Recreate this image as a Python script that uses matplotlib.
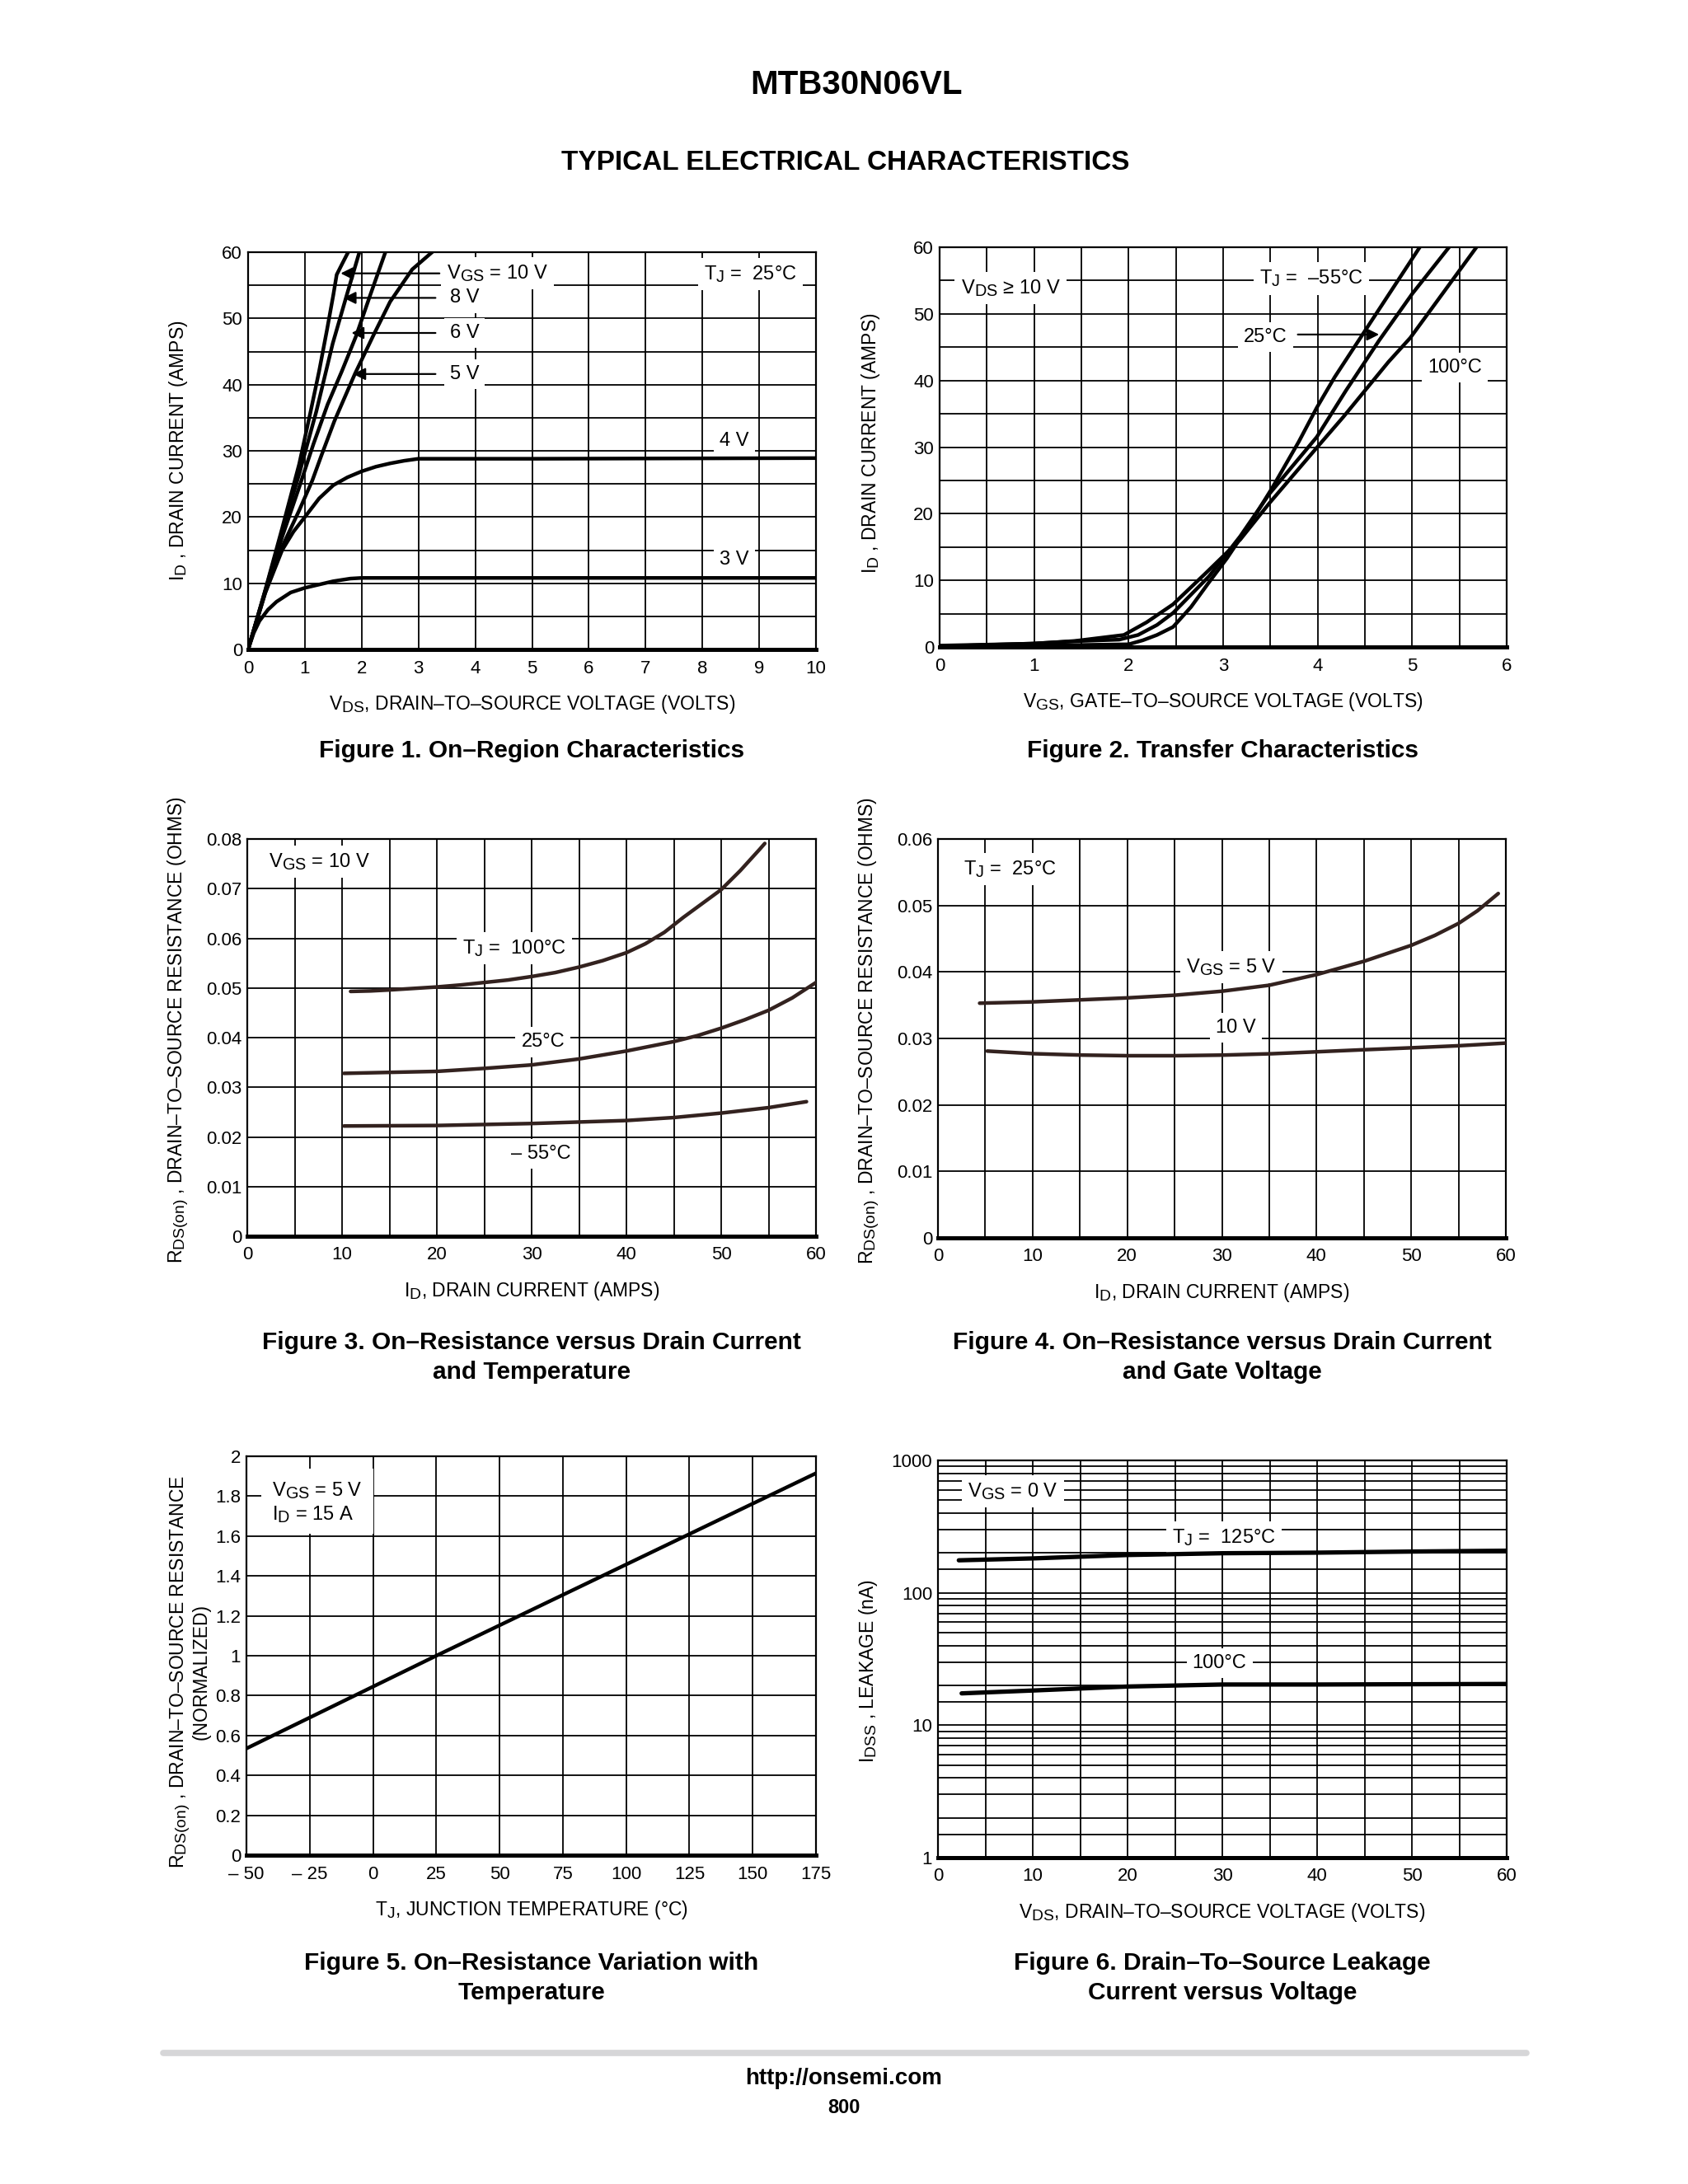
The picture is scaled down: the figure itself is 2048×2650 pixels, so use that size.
import numpy as np
import matplotlib
matplotlib.use("Agg")
import matplotlib.pyplot as plt
from matplotlib.patches import Rectangle
from matplotlib.lines import Line2D

try:
    import matplotlib._mathtext as _mt
    _mt.SHRINK_FACTOR = 0.84
except Exception:
    pass

# ---------------- DATA ----------------
# Figure 1: On-region characteristics (VDS, ID)
f1_v10 = [0, 0.3, 0.6, 0.9, 1.1, 1.25, 1.39, 1.50, 1.56, 1.66, 1.78]
f1_i10 = [0, 8.9, 18.3, 28.0, 35.9, 42.0, 48.3, 53.5, 56.6, 58.3, 60.3]
f1_v8 = [0, 0.3, 0.6, 0.9, 1.2, 1.49, 1.73, 1.97]
f1_i8 = [0, 8.8, 17.8, 26.5, 35.9, 46.2, 53.3, 60.3]
f1_v6 = [0, 0.3, 0.6, 0.9, 1.15, 1.4, 1.65, 1.9, 2.15, 2.43]
f1_i6 = [0, 8.7, 17.0, 24.5, 31.0, 37.0, 42.0, 47.3, 53.5, 60.3]
f1_v5 = [0, 0.3, 0.6, 0.9, 1.13, 1.3, 1.52, 1.88, 2.21, 2.5, 2.89, 3.28]
f1_i5 = [0, 8.5, 15.5, 21.0, 25.5, 29.5, 34.5, 41.6, 47.5, 52.5, 57.4, 60.3]
f1_v4 = [0, 0.3, 0.6, 0.8, 1.0, 1.25, 1.5, 1.75, 2.0, 2.25, 2.5, 2.75, 3.0, 5.0, 10.0]
f1_i4 = [0, 8.5, 15.0, 17.8, 20.0, 22.8, 24.8, 26.0, 26.9, 27.6, 28.1, 28.5, 28.8, 28.8, 28.9]
f1_v3 = [0, 0.1, 0.2, 0.35, 0.5, 0.75, 1.0, 1.25, 1.5, 1.8, 2.0, 10.0]
f1_i3 = [0, 2.5, 4.3, 6.0, 7.2, 8.6, 9.3, 9.8, 10.3, 10.7, 10.8, 10.8]

# Figure 2: Transfer characteristics (VGS, ID)
f2_vgs_m55 = [0, 1.0, 1.5, 2.0, 2.15, 2.3, 2.47, 2.66, 2.85, 3.04, 3.28, 3.52, 3.8, 3.99, 4.18, 4.6, 5.08]
f2_id_m55 = [0.1, 0.2, 0.3, 0.4, 1.0, 1.8, 3.0, 6.0, 9.7, 13.3, 18.4, 23.9, 30.8, 35.9, 40.5, 49.6, 60.0]
f2_vgs_25 = [0, 0.96, 1.5, 1.9, 2.1, 2.3, 2.47, 2.85, 3.18, 3.49, 3.99, 4.3, 4.65, 5.0, 5.39]
f2_id_25 = [0.1, 0.5, 0.9, 1.1, 1.8, 3.3, 5.1, 10.6, 16.6, 23.0, 31.5, 38.5, 46.0, 53.0, 60.0]
f2_vgs_100 = [0, 1.0, 1.43, 1.95, 2.19, 2.47, 2.81, 3.18, 3.49, 3.99, 4.27, 4.75, 4.98, 5.68]
f2_id_100 = [0.2, 0.5, 0.9, 1.8, 3.7, 6.4, 11.0, 16.1, 21.6, 29.9, 34.5, 42.8, 46.4, 60.0]

# Figure 3: RDS(on) vs ID and temperature
f3_id_100 = [10.9, 13, 15, 17.5, 20, 22.5, 25, 27.5, 30, 32.5, 35, 37.5, 40, 42, 44, 46, 48, 50, 52, 54, 54.6]
f3_r_100 = [0.0493, 0.0494, 0.0496, 0.0499, 0.0502, 0.0506, 0.0511, 0.0516, 0.0523, 0.0531, 0.0542,
            0.0555, 0.0571, 0.0589, 0.0612, 0.0642, 0.0670, 0.0698, 0.0736, 0.0778, 0.0791]
f3_id_25 = [10.2, 15, 20, 25, 30, 35, 40, 45, 47.5, 50, 52.5, 55, 57.5, 60]
f3_r_25 = [0.0328, 0.0330, 0.0332, 0.0338, 0.0345, 0.0357, 0.0373, 0.0392, 0.0404, 0.0419, 0.0436,
           0.0455, 0.0480, 0.0511]
f3_id_m55 = [10.2, 20, 30, 35, 40, 45, 50, 55, 59]
f3_r_m55 = [0.0222, 0.0223, 0.0227, 0.0230, 0.0233, 0.0239, 0.0248, 0.0259, 0.0271]

# Figure 4: RDS(on) vs ID and gate voltage
f4_id_5 = [4.4, 10, 15, 20, 25, 30, 35, 40, 45, 50, 52.5, 55, 57, 59.2]
f4_r_5 = [0.0353, 0.0355, 0.0358, 0.0361, 0.0365, 0.0371, 0.0380, 0.0396, 0.0416, 0.0440, 0.0455,
          0.0473, 0.0492, 0.0518]
f4_id_10 = [5.2, 10.2, 15, 20.1, 25, 30.3, 35.3, 40.2, 45, 50.2, 55, 60]
f4_r_10 = [0.0281, 0.0277, 0.0275, 0.0274, 0.0274, 0.0275, 0.0277, 0.0280, 0.0283, 0.0286, 0.0289, 0.0293]

# Figure 5: normalized RDS(on) vs TJ
f5_tj = [-50, 0, 25, 125, 175]
f5_r = [0.535, 0.845, 1.0, 1.61, 1.915]

# Figure 6: IDSS leakage vs VDS
f6_vds_125 = [2.2, 10.1, 20, 30, 39.9, 50.1, 60]
f6_i_125 = [176, 182, 193, 199, 201, 205, 208]
f6_vds_100 = [2.5, 10.1, 20, 30, 39.9, 60]
f6_i_100 = [17.4, 18.3, 19.6, 20.3, 20.3, 20.5]

# tick labels
f1_xticks = list(range(0, 11))
f1_yticks = list(range(0, 61, 10))
f2_xticks = list(range(0, 7))
f2_yticks = list(range(0, 61, 10))
f3_xticks = list(range(0, 61, 10))
f3_yticks = [0, 0.01, 0.02, 0.03, 0.04, 0.05, 0.06, 0.07, 0.08]
f3_ylabels = ["0", "0.01", "0.02", "0.03", "0.04", "0.05", "0.06", "0.07", "0.08"]
f4_yticks = [0, 0.01, 0.02, 0.03, 0.04, 0.05, 0.06]
f4_ylabels = ["0", "0.01", "0.02", "0.03", "0.04", "0.05", "0.06"]
f5_xticks = [-50, -25, 0, 25, 50, 75, 100, 125, 150, 175]
f5_xlabels = ["\u2013 50", "\u2013 25", "0", "25", "50", "75", "100", "125", "150", "175"]
f5_yticks = [0, 0.2, 0.4, 0.6, 0.8, 1, 1.2, 1.4, 1.6, 1.8, 2]
f5_ylabels = ["0", "0.2", "0.4", "0.6", "0.8", "1", "1.2", "1.4", "1.6", "1.8", "2"]
f6_yticks = [1, 10, 100, 1000]
f6_ylabels = ["1", "10", "100", "1000"]

# ---------------- STYLE ----------------
REG = ["Liberation Sans", "DejaVu Sans"]
plt.rcParams["font.family"] = REG
plt.rcParams["mathtext.fontset"] = "custom"
plt.rcParams["mathtext.rm"] = "Liberation Sans"
plt.rcParams["mathtext.it"] = "Liberation Sans"

W, H = 2048, 2650
fig = plt.figure(figsize=(W / 100, H / 100), dpi=100)
fig.patch.set_facecolor("white")

TICK_FS = 16
LAB_FS = 16.5
ANN_FS = 17
CAP_FS = 21.5
CURVE_LW = 3.2
GRID_LW = 1.3
BROWN = "#33221f"


def sub(base, s, rest=""):
    return base + r"$_{\mathdefault{" + s + "}}$" + rest


def make_ax(x0, x1, y0, y1):
    ax = fig.add_axes([x0 / W, 1 - y1 / H, (x1 - x0) / W, (y1 - y0) / H])
    for sp in ["left", "right", "top"]:
        ax.spines[sp].set_linewidth(1.6)
    ax.spines["bottom"].set_linewidth(3.6)
    ax.tick_params(which="both", length=0, labelsize=TICK_FS)
    ax.tick_params(axis="x", pad=9)
    ax.tick_params(axis="y", pad=5)
    ax.grid(True, which="both", color="black", linewidth=GRID_LW)
    ax.set_axisbelow(True)
    return ax


def set_labels(ax, xl, yl, ycoord=0.5, xpos=-0.122):
    ax.set_xlabel(xl, fontsize=LAB_FS, va="center")
    ax.xaxis.set_label_coords(0.5, -0.137)
    ax.set_ylabel(yl, fontsize=LAB_FS, va="center", linespacing=1.0)
    ax.yaxis.set_label_coords(xpos, ycoord)


BOX = dict(boxstyle="square,pad=0.3", fc="white", ec="none")


def ann(ax, x, y, s, ha="center", box=True):
    ax.text(x, y, s, fontsize=ANN_FS, ha=ha, va="center", zorder=4,
            bbox=BOX if box else None)


def arrow(ax, tip, tail):
    ax.annotate("", xy=tip, xytext=tail, zorder=5,
                arrowprops=dict(arrowstyle="-|>", color="black", lw=1.6,
                                mutation_scale=22, shrinkA=0, shrinkB=0))


def curve(ax, x, y, color="black", lw=CURVE_LW):
    ax.plot(x, y, color=color, lw=lw, solid_joinstyle="round",
            solid_capstyle="round", zorder=6)


# ---------------- FIGURE 1 ----------------
ax1 = make_ax(301, 990, 306, 788)
ax1.set_xlim(0, 10)
ax1.set_ylim(0, 60)
ax1.set_xticks(f1_xticks)
ax1.set_yticks(f1_yticks)
ax1.set_yticks(np.arange(5, 60, 10), minor=True)
for vx, iy in [(f1_v10, f1_i10), (f1_v8, f1_i8), (f1_v6, f1_i6), (f1_v5, f1_i5),
               (f1_v4, f1_i4), (f1_v3, f1_i3)]:
    curve(ax1, vx, iy)
for tip_x, yy, tail_x in [(1.63, 56.8, 3.37), (1.68, 53.1, 3.3), (1.82, 47.8, 3.3), (1.85, 41.6, 3.3)]:
    arrow(ax1, (tip_x, yy), (tail_x, yy))
ann(ax1, 3.5, 56.8, sub("V", "GS", " = 10 V"), ha="left")
ann(ax1, 3.55, 53.1, "8 V", ha="left")
ann(ax1, 3.55, 47.8, "6 V", ha="left")
ann(ax1, 3.55, 41.6, "5 V", ha="left")
ann(ax1, 8.85, 56.7, sub("T", "J", " =  25\u00b0C"))
ann(ax1, 8.56, 31.5, "4 V")
ann(ax1, 8.56, 13.6, "3 V")
set_labels(ax1, sub("V", "DS", ", DRAIN\u2013TO\u2013SOURCE VOLTAGE (VOLTS)"),
           sub("I", "D", " , DRAIN CURRENT (AMPS)"))

# ---------------- FIGURE 2 ----------------
ax2 = make_ax(1140, 1828, 300, 785)
ax2.set_xlim(0, 6)
ax2.set_ylim(0, 60)
ax2.set_xticks(f2_xticks)
ax2.set_xticks(np.arange(0.5, 6, 1.0), minor=True)
ax2.set_yticks(f2_yticks)
ax2.set_yticks(np.arange(5, 60, 10), minor=True)
for vx, iy in [(f2_vgs_m55, f2_id_m55), (f2_vgs_25, f2_id_25), (f2_vgs_100, f2_id_100)]:
    curve(ax2, vx, iy)
ann(ax2, 0.75, 53.9, sub("V", "DS", " \u2265 10 V"))
ann(ax2, 3.93, 55.3, sub("T", "J", " =  \u201355\u00b0C"))
ann(ax2, 3.45, 46.5, "25\u00b0C")
arrow(ax2, (4.65, 46.9), (3.79, 46.9))
ann(ax2, 5.45, 41.9, "100\u00b0C")
set_labels(ax2, sub("V", "GS", ", GATE\u2013TO\u2013SOURCE VOLTAGE (VOLTS)"),
           sub("I", "D", " , DRAIN CURRENT (AMPS)"), ycoord=0.51)

# ---------------- FIGURE 3 ----------------
ax3 = make_ax(300, 990, 1018, 1500)
ax3.set_xlim(0, 60)
ax3.set_ylim(0, 0.08)
ax3.set_xticks(f3_xticks)
ax3.set_xticks(np.arange(5, 60, 10), minor=True)
ax3.set_yticks(f3_yticks)
ax3.set_yticklabels(f3_ylabels)
for ix, ry in [(f3_id_100, f3_r_100), (f3_id_25, f3_r_25), (f3_id_m55, f3_r_m55)]:
    curve(ax3, ix, ry, color=BROWN)
ann(ax3, 7.6, 0.0754, sub("V", "GS", " = 10 V"))
ann(ax3, 28.2, 0.058, sub("T", "J", " =  100\u00b0C"))
ann(ax3, 31.2, 0.0391, "25\u00b0C")
ann(ax3, 31.0, 0.0166, "\u2013 55\u00b0C")
set_labels(ax3, sub("I", "D", ", DRAIN CURRENT (AMPS)"),
           sub("R", "DS(on)", " , DRAIN\u2013TO\u2013SOURCE RESISTANCE (OHMS)"), ycoord=0.52)

# ---------------- FIGURE 4 ----------------
ax4 = make_ax(1138, 1827, 1018, 1502)
ax4.set_xlim(0, 60)
ax4.set_ylim(0, 0.06)
ax4.set_xticks(f3_xticks)
ax4.set_xticks(np.arange(5, 60, 10), minor=True)
ax4.set_yticks(f4_yticks)
ax4.set_yticklabels(f4_ylabels)
for ix, ry in [(f4_id_5, f4_r_5), (f4_id_10, f4_r_10)]:
    curve(ax4, ix, ry, color=BROWN)
ann(ax4, 7.6, 0.0555, sub("T", "J", " =  25\u00b0C"))
ann(ax4, 31.0, 0.0407, sub("V", "GS", " = 5 V"))
ann(ax4, 31.5, 0.0316, "10 V")
set_labels(ax4, sub("I", "D", ", DRAIN CURRENT (AMPS)"),
           sub("R", "DS(on)", " , DRAIN\u2013TO\u2013SOURCE RESISTANCE (OHMS)"), ycoord=0.52)

# ---------------- FIGURE 5 ----------------
ax5 = make_ax(299, 990, 1767, 2251)
ax5.set_xlim(-50, 175)
ax5.set_ylim(0, 2)
ax5.set_xticks(f5_xticks)
ax5.set_xticklabels(f5_xlabels)
ax5.set_yticks(f5_yticks)
ax5.set_yticklabels(f5_ylabels)
curve(ax5, f5_tj, f5_r)
ax5.add_patch(Rectangle((-44, 1.61), 44, 0.33, fc="white", ec="none", zorder=2.5))
ax5.text(-40, 1.83, sub("V", "GS", " = 5 V"), fontsize=ANN_FS, ha="left", va="center", zorder=4)
ax5.text(-40, 1.71, sub("I", "D", " = 15 A"), fontsize=ANN_FS, ha="left", va="center", zorder=4)
set_labels(ax5, sub("T", "J", ", JUNCTION TEMPERATURE (\u00b0C)"),
           sub("R", "DS(on)", " , DRAIN\u2013TO\u2013SOURCE RESISTANCE") + "\n(NORMALIZED)",
           ycoord=0.46, xpos=-0.10)

# ---------------- FIGURE 6 ----------------
ax6 = make_ax(1138, 1828, 1772, 2254)
ax6.set_yscale("log")
ax6.set_xlim(0, 60)
ax6.set_ylim(1, 1000)
ax6.set_xticks(f3_xticks)
ax6.set_xticks(np.arange(5, 60, 10), minor=True)
ax6.set_yticks(f6_yticks)
ax6.set_yticklabels(f6_ylabels)
minor6 = [m * d for d in (1, 10, 100) for m in (1.5, 2, 3, 4, 5, 6, 7, 8, 9)]
ax6.set_yticks(minor6, minor=True)
ax6.yaxis.set_minor_formatter(matplotlib.ticker.NullFormatter())
for vx, iy in [(f6_vds_125, f6_i_125), (f6_vds_100, f6_i_100)]:
    curve(ax6, vx, iy, lw=CURVE_LW + 0.6)
ann(ax6, 7.9, 585, sub("V", "GS", " = 0 V"))
ann(ax6, 30.2, 262, sub("T", "J", " =  125\u00b0C"))
ann(ax6, 29.7, 29.5, "100\u00b0C")
set_labels(ax6, sub("V", "DS", ", DRAIN\u2013TO\u2013SOURCE VOLTAGE (VOLTS)"),
           sub("I", "DSS", " , LEAKAGE (nA)"), ycoord=0.47)

# ---------------- PAGE TEXT ----------------
fig.text(1039 / W, 1 - 103 / H, "MTB30N06VL", ha="center", va="center",
         fontsize=29, fontweight="bold")
fig.text(1026 / W, 1 - 197 / H, "TYPICAL ELECTRICAL CHARACTERISTICS", ha="center",
         va="center", fontsize=24, fontweight="bold")

captions = [
    (645, 911, "Figure 1. On\u2013Region Characteristics"),
    (1483, 911, "Figure 2. Transfer Characteristics"),
    (645, 1647, "Figure 3. On\u2013Resistance versus Drain Current\nand Temperature"),
    (1483, 1647, "Figure 4. On\u2013Resistance versus Drain Current\nand Gate Voltage"),
    (645, 2400, "Figure 5. On\u2013Resistance Variation with\nTemperature"),
    (1483, 2400, "Figure 6. Drain\u2013To\u2013Source Leakage\nCurrent versus Voltage"),
]
for cx, cy, s in captions:
    fig.text(cx / W, 1 - cy / H, s, ha="center", va="center", fontsize=CAP_FS,
             fontweight="bold", linespacing=1.35)

fig.add_artist(Line2D([198 / W, 1852 / W], [1 - 2491 / H, 1 - 2491 / H],
                      color="#d6d6d8", lw=5.5, solid_capstyle="round"))
fig.text(1024 / W, 1 - 2522 / H, "http://onsemi.com", ha="center", va="center",
         fontsize=20, fontweight="bold")
fig.text(1024 / W, 1 - 2557 / H, "800", ha="center", va="center",
         fontsize=17, fontweight="bold")

fig.savefig("out.png", dpi=100, facecolor="white")
